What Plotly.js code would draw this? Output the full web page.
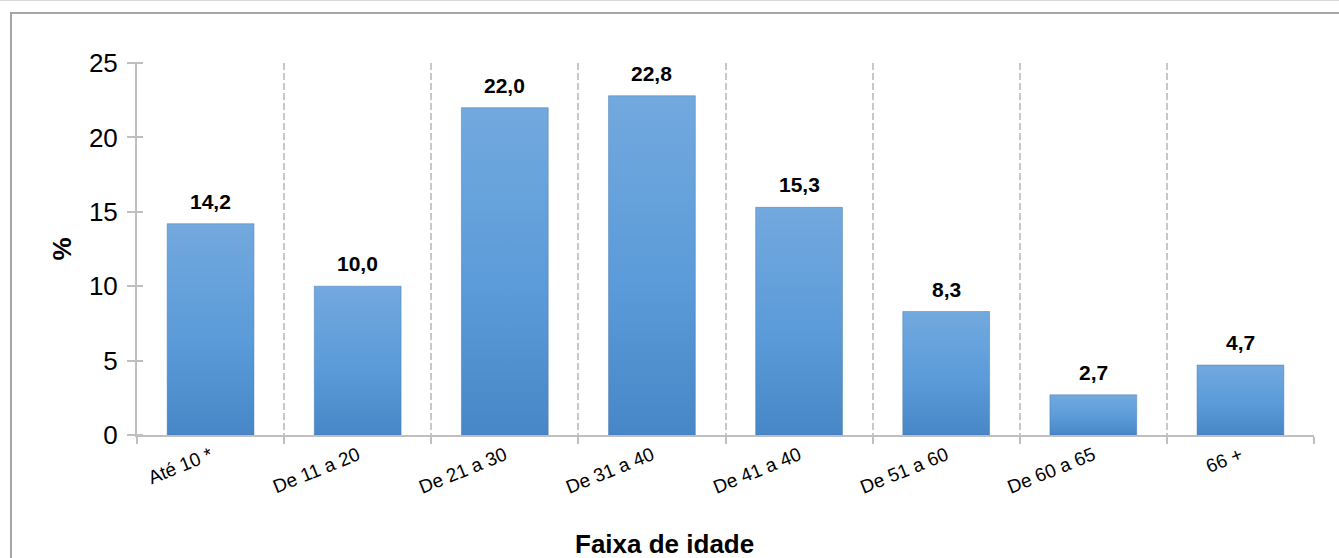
<!DOCTYPE html>
<html>
<head>
<meta charset="utf-8">
<script src="https://cdn.plot.ly/plotly-3.0.1.min.js"></script>
<style>
  html, body { margin:0; padding:0; background:#fff; width:1339px; height:558px; overflow:hidden; }
  #topline { position:absolute; left:0; top:0; width:1339px; height:0; border-top:1px solid #d9d9d9; }
  #frame { position:absolute; left:10px; top:12px; width:1400px; height:600px; border-left:2px solid #a6a6a6; border-top:2px solid #a6a6a6; }
  #chart { position:absolute; left:0; top:0; width:1339px; height:558px; }
</style>
</head>
<body>
<div id="topline"></div>
<div id="frame"></div>
<div id="chart"></div>
<script>
const categories = ['Até 10 *', 'De 11 a 20', 'De 21 a 30', 'De 31 a 40', 'De 41 a 40', 'De 51 a 60', 'De 60 a 65', '66 +'];
const values = [14.2, 10.0, 22.0, 22.8, 15.3, 8.3, 2.7, 4.7];
const yTickValues = [0, 5, 10, 15, 20, 25];
const xTitle = 'Faixa de idade';
const yTitle = '%';

const FONT = 'Liberation Sans, Arial, sans-serif';
const axisGray = '#bfbfbf';

const trace = {
  type: 'bar',
  x: categories,
  y: values,
  width: 0.59,
  marker: { color: '#5b9bd5', line: { color: 'rgba(65,113,170,0.45)', width: 1 } },
  hoverinfo: 'x+y'
};

const annotations = categories.map((c, i) => ({
  x: c, y: values[i], xref: 'x', yref: 'y',
  text: values[i].toFixed(1).replace('.', ','),
  showarrow: false, yanchor: 'bottom', yshift: 9,
  font: { family: FONT, size: 21, color: '#000', weight: 'bold' }
}));

// x-axis title (offset to the left of the plot centre, as in the original)
annotations.push({
  text: xTitle, xref: 'paper', yref: 'paper', x: 0.448, y: 0,
  xanchor: 'center', yanchor: 'middle', yshift: -109, showarrow: false,
  font: { family: FONT, size: 26, color: '#000', weight: 'bold' }
});

const layout = {
  width: 1339, height: 558,
  margin: { l: 137, r: 25, t: 63, b: 123 },
  paper_bgcolor: 'rgba(0,0,0,0)',
  plot_bgcolor: 'rgba(0,0,0,0)',
  font: { family: FONT, color: '#000' },
  showlegend: false,
  xaxis: {
    type: 'category', range: [-0.5, 7.5], automargin: false,
    tickson: 'boundaries', ticks: 'outside', ticklen: 7, tickwidth: 2, tickcolor: axisGray,
    showline: true, linecolor: axisGray, linewidth: 2,
    showgrid: true, gridcolor: '#c8c8c8', gridwidth: 2, griddash: '7px,3px',
    tickangle: -22, tickfont: { family: FONT, size: 19, color: '#000' },
    fixedrange: true
  },
  yaxis: {
    range: [0, 25], tickvals: yTickValues, ticktext: yTickValues.map(String), automargin: false,
    ticks: 'outside', ticklen: 8, tickwidth: 2, tickcolor: axisGray,
    showline: true, linecolor: axisGray, linewidth: 2,
    showgrid: false, zeroline: false, ticklabelstandoff: 4,
    tickfont: { family: FONT, size: 26, color: '#000' },
    title: { text: yTitle, font: { family: FONT, size: 26, color: '#000', weight: 'bold' }, standoff: 10 },
    fixedrange: true
  },
  annotations: annotations
};

Plotly.newPlot('chart', [trace], layout, { displayModeBar: false, staticPlot: true }).then(gd => {
  const svg = gd.querySelector('svg.main-svg');
  const ns = 'http://www.w3.org/2000/svg';
  let defs = svg.querySelector('defs');
  if (!defs) { defs = document.createElementNS(ns, 'defs'); svg.insertBefore(defs, svg.firstChild); }
  const grad = document.createElementNS(ns, 'linearGradient');
  grad.setAttribute('id', 'barGrad');
  grad.setAttribute('x1', '0'); grad.setAttribute('y1', '0');
  grad.setAttribute('x2', '0'); grad.setAttribute('y2', '1');
  [['0%', '#72a9de'], ['55%', '#5b9bd9'], ['100%', '#4787c7']].forEach(([o, c]) => {
    const s = document.createElementNS(ns, 'stop');
    s.setAttribute('offset', o); s.setAttribute('stop-color', c);
    grad.appendChild(s);
  });
  defs.appendChild(grad);
  gd.querySelectorAll('.trace.bars .point path').forEach(p => { p.style.fill = 'url(#barGrad)'; });
  // y ticks cross the axis line (half outside, half inside), as in the original
  gd.querySelectorAll('path.ytick').forEach(p => {
    const d = p.getAttribute('d') || '';
    const m = d.match(/^M\s*([-\d.]+)\s*,\s*([-\d.]+)\s*h\s*(-?[\d.]+)/);
    if (m) {
      const x0 = parseFloat(m[1]), y0 = parseFloat(m[2]), len = Math.abs(parseFloat(m[3]));
      p.setAttribute('d', 'M' + (x0 + len) + ',' + y0 + 'h-' + (2 * len));
    }
  });
});
</script>
</body>
</html>
